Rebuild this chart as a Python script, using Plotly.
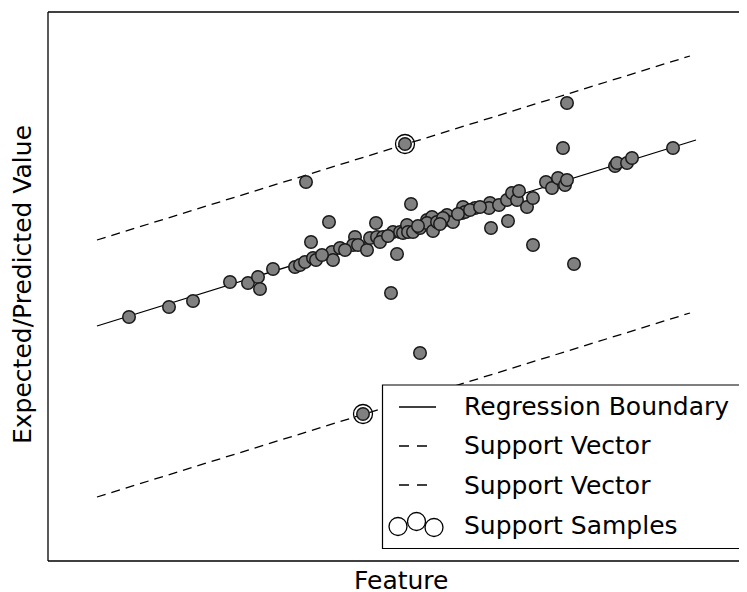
import plotly.graph_objects as go

# ---- data (feature, value) ----
feature = [81, 121, 145, 182, 200, 210, 212, 225, 247, 252, 257, 265, 268, 263, 258,
           281, 284, 285, 292, 307, 305, 310, 319, 322, 328, 329, 335, 332, 345, 349,
           343, 352, 355, 359, 363, 360, 365, 372, 379, 384, 379, 385, 389, 399, 397,
           405, 414, 415, 427, 395, 417, 442, 441, 443, 451, 459, 460, 464, 469, 471,
           479, 485, 485, 498, 504, 510, 515, 517, 519, 526, 567, 569, 579, 584, 625,
           519, 372, 357, 315, 340, 370, 392, 410, 422, 432, 297, 274]
value = [244, 254, 260, 279, 278, 284, 272, 292, 294, 296, 299, 303, 301, 319, 379,
         339, 309, 301, 313, 324, 316, 316, 311, 323, 338, 324, 324, 319, 329, 307,
         268, 329, 328, 336, 357, 329, 329, 333, 341, 344, 338, 330, 339, 346, 341,
         339, 348, 354, 353, 343, 349, 358, 353, 333, 356, 361, 340, 368, 361, 370,
         354, 363, 316, 379, 373, 383, 413, 376, 381, 297, 395, 398, 398, 403, 413,
         458, 208, 417, 147, 325, 335, 337, 347, 351, 354, 311, 306]

support_x = [357, 315]
support_y = [417, 147]

reg_x = [49, 648]
reg_y = [235, 421]
sv_upper_x = [49, 642]
sv_upper_y = [321, 505]
sv_lower_x = [49, 642]
sv_lower_y = [64, 248]

legend_labels = ["Regression Boundary", "Support Vector", "Support Vector", "Support Samples"]

# ---- layout (the page body adds an 8px offset) ----
OFF = 8
W, H = 747 - OFF, 592 - OFF
PLOT_L, PLOT_T, PLOT_B = 48, 12, 561          # plot edges in page pixels
L, T = PLOT_L - OFF, PLOT_T - OFF
B = H - (PLOT_B - OFF)
R = 0
PW, PH = W - L - R, H - T - B


def px(x):
    return (x - PLOT_L) / PW


def py(y):
    return (PLOT_B - y) / PH


FONT = "DejaVu Sans"
DASH = "9px,6px"

fig = go.Figure()

fig.add_trace(go.Scatter(x=reg_x, y=reg_y, mode="lines", name=legend_labels[0],
                         line=dict(color="black", width=1.3), showlegend=False))
fig.add_trace(go.Scatter(x=sv_upper_x, y=sv_upper_y, mode="lines", name=legend_labels[1],
                         line=dict(color="black", width=1.3, dash=DASH), showlegend=False))
fig.add_trace(go.Scatter(x=sv_lower_x, y=sv_lower_y, mode="lines", name=legend_labels[2],
                         line=dict(color="black", width=1.3, dash=DASH), showlegend=False))
fig.add_trace(go.Scatter(x=feature, y=value, mode="markers", name="Samples",
                         marker=dict(size=12.5, color="rgb(128,128,128)",
                                     line=dict(color="rgb(25,25,25)", width=1.5)),
                         showlegend=False))
fig.add_trace(go.Scatter(x=support_x, y=support_y, mode="markers", name=legend_labels[3],
                         marker=dict(size=19, color="rgba(0,0,0,0)",
                                     line=dict(color="black", width=1.3)),
                         showlegend=False))

shapes = []
fr = dict(color="black", width=1.3)
shapes.append(dict(type="line", xref="paper", yref="paper", x0=0, x1=0, y0=0, y1=1, line=fr))
shapes.append(dict(type="line", xref="paper", yref="paper", x0=0, x1=1, y0=1, y1=1, line=fr))
shapes.append(dict(type="line", xref="paper", yref="paper", x0=0, x1=1, y0=0, y1=0, line=fr))

# custom legend box
shapes.append(dict(type="rect", xref="paper", yref="paper", layer="above",
                   x0=px(382.5), x1=px(745.5), y0=py(548.5), y1=py(385),
                   line=dict(color="black", width=1.2), fillcolor="white"))
row_y = [407, 446, 485, 524]
shapes.append(dict(type="line", xref="paper", yref="paper", layer="above",
                   x0=px(399), x1=px(436), y0=py(row_y[0]), y1=py(row_y[0]),
                   line=dict(color="black", width=1.3)))
for ry in row_y[1:3]:
    shapes.append(dict(type="line", xref="paper", yref="paper", layer="above",
                       x0=px(399), x1=px(428), y0=py(ry), y1=py(ry),
                       line=dict(color="black", width=1.3, dash="10px,8px")))
for cx, cy in [(398, 526.5), (416.5, 521.5), (434, 527.5)]:
    r = 9
    shapes.append(dict(type="circle", xref="paper", yref="paper", layer="above",
                       x0=px(cx - r), x1=px(cx + r), y0=py(cy + r), y1=py(cy - r),
                       line=dict(color="black", width=1.3), fillcolor="rgba(0,0,0,0)"))

annotations = []
text_y = [406, 445.5, 485, 525]
for lab, ty in zip(legend_labels, text_y):
    annotations.append(dict(text=lab, xref="paper", yref="paper", x=px(462), y=py(ty),
                            xanchor="left", yanchor="middle", showarrow=False,
                            font=dict(family=FONT, size=25, color="black")))
annotations.append(dict(text="Feature", xref="paper", yref="paper", x=px(400.5), y=py(581),
                        xanchor="center", yanchor="middle", showarrow=False,
                        font=dict(family=FONT, size=25, color="black")))
annotations.append(dict(text="Expected/Predicted Value", xref="paper", yref="paper",
                        x=px(22), y=py(285), textangle=-90,
                        xanchor="center", yanchor="middle", showarrow=False,
                        font=dict(family=FONT, size=25, color="black")))

axis_common = dict(showticklabels=False, ticks="", showgrid=False, zeroline=False,
                   showline=False)
fig.update_layout(
    width=W, height=H,
    margin=dict(l=L, r=R, t=T, b=B, pad=0),
    paper_bgcolor="white", plot_bgcolor="white",
    xaxis=dict(range=[0, PW], **axis_common),
    yaxis=dict(range=[0, PH], **axis_common),
    shapes=shapes, annotations=annotations,
    showlegend=False,
)

fig.write_html("out.html")
